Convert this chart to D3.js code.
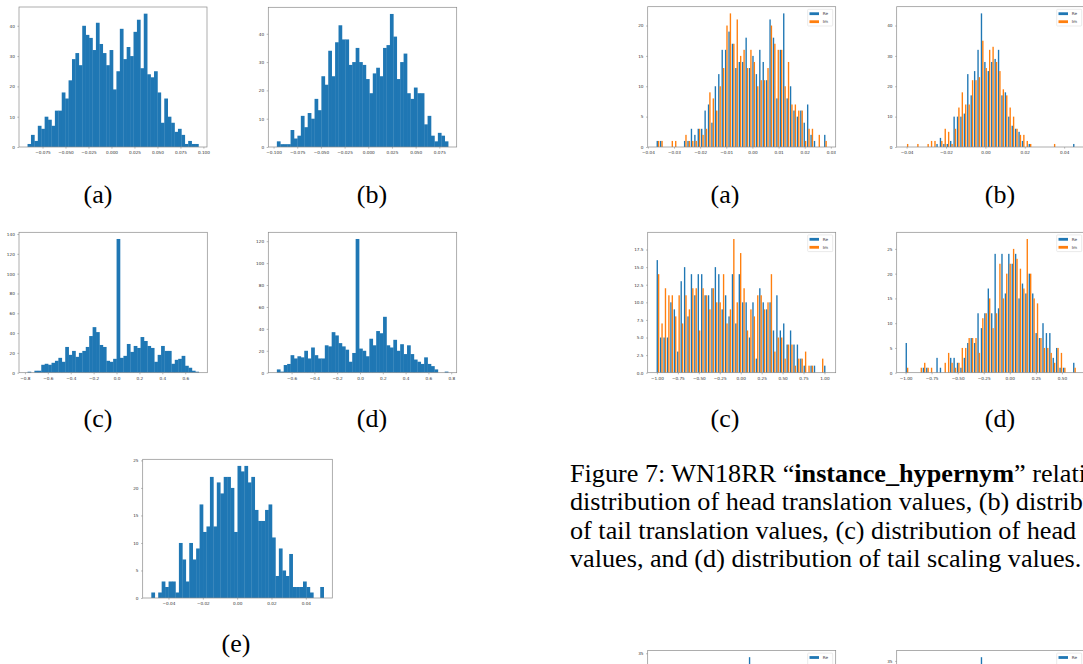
<!DOCTYPE html>
<html><head><meta charset="utf-8">
<script src="https://cdn.jsdelivr.net/npm/d3@7"></script>
<style>html,body{margin:0;padding:0;background:#fff;overflow:hidden}</style>
</head><body>
<svg id="fig" width="1083" height="664"></svg>
<script>
// ---------- DATA ----------
// left figure: single-series histograms (50 bins each)
const countsLa = [1,4,2,7,6,10,9,7,12,12,18,16,22,29,31,27,40,37,36,32,41,34,31,27,32,19,25,39,29,33,30,38,42,26,44,24,23,25,18,8,16,10,8,5,6,4,1,2,1,1];
const countsLb = [2,1,1,1,6,3,4,11,7,12,10,17,13,25,22,34,25,37,43,38,38,29,30,35,30,29,24,19,26,28,25,35,36,47,39,24,30,33,19,17,21,19,19,8,11,4,2,5,4,2];
const countsLc = [1,0,2,2,8,9,8,10,12,15,11,26,18,22,16,20,22,26,37,46,41,28,26,12,11,14,135,15,17,29,21,27,25,36,32,27,25,11,18,27,22,22,9,13,14,17,7,5,2,1];
const countsLd = [3,1,7,8,16,13,15,14,20,13,23,16,13,13,25,24,37,34,27,24,21,10,18,122,22,20,15,31,25,38,36,51,25,23,30,20,26,17,25,17,12,10,8,14,8,6,3,0,0,1];
const countsLe = [1,0,1,3,2,3,3,1,10,7,3,10,7,9,17,12,13,22,13,21,19,22,22,20,12,24,23,24,21,22,16,14,14,16,17,11,4,9,5,4,8,2,2,2,3,2,1,0,0,2];
// bin ranges (min, max of the data)
const rangeLa = [-0.0913, 0.0946];
const rangeLb = [-0.0965, 0.0843];
const rangeLc = [-0.777, 0.718];
const rangeLd = [-0.729, 0.773];
const rangeLe = [-0.05, 0.0504];

// right figure (Figure 7): Re / Im grouped histograms (50 bins each)
const seriesNames = ["Re", "Im"];
const reRa = [1,1,0,0,0,0,0,0,1,1,3,2,3,3,6,7,4,10,12,16,16,19,17,13,14,14,18,13,15,12,16,14,11,21,18,8,16,22,8,10,6,5,6,4,7,2,1,0,0,2];
const imRa = [1,1,0,0,1,1,0,0,2,1,1,1,3,2,3,9,8,6,10,13,20,22,17,21,15,16,13,16,14,10,11,11,13,20,17,16,16,10,14,7,7,6,6,1,3,3,0,2,0,1];
const reRb = [0,0,0,0,0,0,0,0,0,1,3,1,1,2,10,10,10,11,24,17,25,32,44,28,25,28,29,32,17,18,10,7,6,5,2,0,1,0,0,0,0,0,0,0,0,0,0,0,0,1];
const imRb = [1,0,0,1,0,0,1,2,2,0,2,6,5,1,6,13,18,14,14,22,22,23,35,26,32,33,28,25,19,17,13,10,6,4,4,2,1,0,0,0,0,0,0,1,0,0,0,0,0,0];
const reRc = [16,5,5,5,10,9,3,13,15,8,14,11,14,14,11,11,12,15,14,9,11,8,14,7,14,10,10,5,10,2,12,10,9,10,6,11,6,7,4,6,4,4,2,1,0,1,1,0,0,1];
const imRc = [14,7,12,11,11,8,11,7,11,9,12,12,6,12,11,9,12,10,10,14,7,9,19,10,17,12,6,9,8,11,11,9,10,14,3,5,5,2,4,4,1,2,2,3,1,1,0,0,2,0];
const reRd = [6,0,0,0,0,1,1,0,0,3,1,0,0,3,3,2,1,3,6,7,6,12,9,12,17,12,24,13,24,16,24,22,24,15,18,16,20,16,8,7,10,8,8,3,5,1,1,0,0,2];
const imRd = [1,0,0,0,1,2,1,1,0,0,0,2,4,2,1,2,5,5,7,7,7,4,11,12,15,9,12,22,15,20,22,25,23,21,17,27,20,15,14,7,5,5,4,2,5,4,1,0,0,1];
const rangeRa = [-0.0368, 0.0286];
const rangeRb = [-0.0407, 0.0461];
const rangeRc = [-1.008, 1.032];
const rangeRd = [-1.003, 0.637];

// tick values
const xTicksLa = [-0.075,-0.05,-0.025,0,0.025,0.05,0.075,0.1];
const xTicksLb = [-0.1,-0.075,-0.05,-0.025,0,0.025,0.05,0.075];
const xTicksLc = [-0.8,-0.6,-0.4,-0.2,0,0.2,0.4,0.6];
const xTicksLd = [-0.6,-0.4,-0.2,0,0.2,0.4,0.6,0.8];
const xTicksLe = [-0.04,-0.02,0,0.02,0.04];
const yTicksLa = [0,10,20,30,40];
const yTicksLb = [0,10,20,30,40];
const yTicksLc = [0,20,40,60,80,100,120,140];
const yTicksLd = [0,20,40,60,80,100,120];
const yTicksLe = [0,5,10,15,20,25];
const xTicksRa = [-0.04,-0.03,-0.02,-0.01,0,0.01,0.02,0.03];
const xTicksRb = [-0.04,-0.02,0,0.02,0.04];
const xTicksRc = [-1,-0.75,-0.5,-0.25,0,0.25,0.5,0.75,1];
const xTicksRd = [-1,-0.75,-0.5,-0.25,0,0.25,0.5];
const yTicksRa = [0,5,10,15,20];
const yTicksRb = [0,10,20,30,40];
const yTicksRc = [0,2.5,5,7.5,10,12.5,15,17.5];
const yTicksRd = [0,5,10,15,20,25];

// partially visible next figure (only the tallest bars reach into view)
const partialPeakBin = [27, 22];
const partialPeakCount = [34, 36];
const partialYTick = [35, 35];

const subLabels = ["(a)","(b)","(c)","(d)","(e)"];
const captionLines = [
  ["Figure 7: WN18RR \u201C", "instance_hypernym", "\u201D relation: (a)"],
  ["distribution of head translation values, (b) distribution"],
  ["of tail translation values, (c) distribution of head scaling"],
  ["values, and (d) distribution of tail scaling values."]
];

// ---------- DRAW ----------
const COLORS = ["#1f77b4", "#ff7f0e"];
const FRAME = "#8a8a8a";
const TICKFONT = "DejaVu Sans";
const svg = d3.select("#fig");
svg.append("rect").attr("width",1083).attr("height",664).attr("fill","#fff");

function panel(cfg) {
  const [x0,y0,x1,y1] = cfg.frame;
  const [lo,hi] = cfg.range;
  const r = hi - lo;
  const x = d3.scaleLinear().domain([lo-0.05*r, hi+0.05*r]).range([x0,x1]);
  const ymax = (cfg.ymax !== undefined) ? cfg.ymax : d3.max(cfg.series.flat())*1.05;
  const y = d3.scaleLinear().domain([0,ymax]).range([y1,y0]);
  const g = svg.append("g");
  const nb = cfg.series[0].length;
  const w = r/nb;
  const nx = cfg.series.length;
  const dr = nx > 1 ? 0.8 : 1;
  const bw = dr*w/nx;
  cfg.series.forEach((s,j) => {
    g.append("g").selectAll("rect").data(s).join("rect")
      .attr("x", (d,i) => x(lo + i*w + (1-dr)/2*w + j*bw))
      .attr("width", x(lo + bw) - x(lo) + (nx === 1 ? 0.3 : 0))
      .attr("y", d => y(d))
      .attr("height", d => y(0) - y(d))
      .attr("fill", COLORS[j]);
  });
  // axes
  const xa = g.append("g").attr("transform",`translate(0,${y1})`)
    .call(d3.axisBottom(x).tickValues(cfg.xt).tickFormat(d3.format(cfg.xf)).tickSize(1.6).tickPadding(2.4));
  const ya = g.append("g").attr("transform",`translate(${x0},0)`)
    .call(d3.axisLeft(y).tickValues(cfg.yt).tickFormat(d3.format(cfg.yf)).tickSize(1.6).tickPadding(2.6));
  [xa,ya].forEach(a => {
    a.select(".domain").remove();
    a.attr("font-family", TICKFONT).attr("font-size", 4.2);
    a.selectAll("line").attr("stroke", FRAME).attr("stroke-width", 0.6);
    a.selectAll("text").attr("fill", "#333");
  });
  // frame
  g.append("rect").attr("x",x0).attr("y",y0).attr("width",x1-x0).attr("height",y1-y0)
    .attr("fill","none").attr("stroke",FRAME).attr("stroke-width",0.7);
  if (nx > 1) legend(g, x1, y0);
  return {x, y};
}

function legend(g, x1, y0) {
  const bx = x1 - 28, by = y0 + 2.6;
  g.append("rect").attr("x",bx).attr("y",by).attr("width",25).attr("height",16.7)
    .attr("rx",0.8).attr("fill","#fff").attr("fill-opacity",0.8)
    .attr("stroke","#d6d6d6").attr("stroke-width",0.5);
  seriesNames.forEach((nm,j) => {
    const py = y0 + 5.6 + j*8;
    g.append("rect").attr("x",bx+1.8).attr("y",py).attr("width",9.5).attr("height",2.8).attr("fill",COLORS[j]);
    g.append("text").attr("x",bx+15).attr("y",py+2.7).text(nm)
      .attr("font-family",TICKFONT).attr("font-size",4.2).attr("fill","#333");
  });
}

const panels = [
  {frame:[19,7,207,147], range:rangeLa, series:[countsLa], xt:xTicksLa, xf:".3f", yt:yTicksLa, yf:"d"},
  {frame:[268.3,7.3,456.7,147], range:rangeLb, series:[countsLb], xt:xTicksLb, xf:".3f", yt:yTicksLb, yf:"d"},
  {frame:[19,232.3,207.3,372.7], range:rangeLc, series:[countsLc], xt:xTicksLc, xf:".1f", yt:yTicksLc, yf:"d"},
  {frame:[268.3,232.3,456.7,372.7], range:rangeLd, series:[countsLd], xt:xTicksLd, xf:".1f", yt:yTicksLd, yf:"d"},
  {frame:[142.7,459.3,332.3,598], range:rangeLe, series:[countsLe], xt:xTicksLe, xf:".2f", yt:yTicksLe, yf:"d"},
  {frame:[647.7,6.7,835.7,147], range:rangeRa, series:[reRa,imRa], xt:xTicksRa, xf:".2f", yt:yTicksRa, yf:"d"},
  {frame:[896.7,6.7,1084.7,147], range:rangeRb, series:[reRb,imRb], xt:xTicksRb, xf:".2f", yt:yTicksRb, yf:"d"},
  {frame:[647.7,232.3,835.7,372.7], range:rangeRc, series:[reRc,imRc], xt:xTicksRc, xf:".2f", yt:yTicksRc, yf:".1f"},
  {frame:[896.7,232.3,1084.7,372.7], range:rangeRd, series:[reRd,imRd], xt:xTicksRd, xf:".2f", yt:yTicksRd, yf:"d"}
];
panels.forEach(panel);

// partially visible panels of the next figure
const partialFrames = [[647.7,650.5,835.7,790.9],[896.7,650.5,1084.7,790.9]];
partialFrames.forEach((fr,k) => {
  const [x0,y0,x1,y1] = fr;
  const x = d3.scaleLinear().domain([-2.5,52.5]).range([x0,x1]); // bin-index space
  const y = d3.scaleLinear().domain([0, partialPeakCount[k]*1.05]).range([y1,y0]);
  const g = svg.append("g");
  g.append("rect").attr("x", x(partialPeakBin[k]+0.1)).attr("width", x(0.4)-x(0))
    .attr("y", y(partialPeakCount[k])).attr("height", y(0)-y(partialPeakCount[k])).attr("fill", COLORS[0]);
  const ya = g.append("g").attr("transform",`translate(${x0},0)`)
    .call(d3.axisLeft(y).tickValues([partialYTick[k]]).tickFormat(d3.format("d")).tickSize(1.6).tickPadding(2.6));
  ya.select(".domain").remove();
  ya.attr("font-family", TICKFONT).attr("font-size", 4.2);
  ya.selectAll("line").attr("stroke", FRAME).attr("stroke-width", 0.6);
  ya.selectAll("text").attr("fill", "#333");
  g.append("rect").attr("x",x0).attr("y",y0).attr("width",x1-x0).attr("height",y1-y0)
    .attr("fill","none").attr("stroke",FRAME).attr("stroke-width",0.7);
  legend(g, x1, y0);
});

// sub-figure labels
const SERIF = "Liberation Serif, Times New Roman, serif";
const labelPos = [
  [98,203,0],[372,203,1],[98,427,2],[372,427,3],[236,652,4],
  [725,203,0],[1000,203,1],[725,427,2],[1000,427,3]
];
svg.append("g").selectAll("text").data(labelPos).join("text")
  .attr("x", d => d[0]).attr("y", d => d[1]).attr("text-anchor","middle")
  .attr("font-family", SERIF).attr("font-size", 26).attr("fill","#000")
  .text(d => subLabels[d[2]]);

// caption
const cap = svg.append("text").attr("font-family", SERIF).attr("font-size", 26.2).attr("fill","#000");
captionLines.forEach((parts,i) => {
  parts.forEach((p,j) => {
    const t = cap.append("tspan").text(p);
    if (j === 0) t.attr("x", 570).attr("y", 482 + i*28.4);
    if (parts.length > 1 && j === 1) t.attr("font-weight","bold");
  });
});
</script>
</body></html>
